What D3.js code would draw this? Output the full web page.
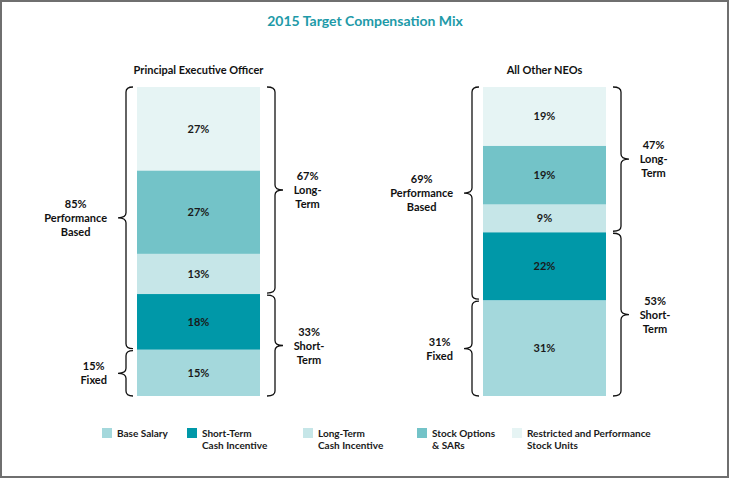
<!DOCTYPE html>
<html><head><meta charset="utf-8">
<script src="https://cdn.jsdelivr.net/npm/d3@7"></script>
<style>
html,body{margin:0;padding:0;background:#fff;}
svg{display:block;font-family:Lato,"Open Sans",sans-serif;}
</style></head>
<body>
<svg id="chart" width="729" height="478"></svg>
<script>
// ---- data ----
const title = "2015 Target Compensation Mix";
const categories = ["Base Salary", "Short-Term Cash Incentive", "Long-Term Cash Incentive", "Stock Options & SARs", "Restricted and Performance Stock Units"];
const legendLines = [["Base Salary"], ["Short-Term", "Cash Incentive"], ["Long-Term", "Cash Incentive"], ["Stock Options", "& SARs"], ["Restricted and Performance", "Stock Units"]];
const panels = ["Principal Executive Officer", "All Other NEOs"];
const peoValues = [15, 18, 13, 27, 27];
const neoValues = [31, 22, 9, 19, 19];
// bracket groups: [label, first category index, last category index]
const leftGroups = [["Fixed", 0, 0], ["Performance Based", 1, 4]];
const rightGroups = [["Short-Term", 0, 1], ["Long-Term", 2, 4]];
const leftGroupLines = {"Fixed": ["Fixed"], "Performance Based": ["Performance", "Based"]};
const rightGroupLines = {"Short-Term": ["Short-", "Term"], "Long-Term": ["Long-", "Term"]};
const colors = ["#a4d8dc", "#0098a8", "#c6e6e8", "#73c3c8", "#e6f4f4"];

const svg = d3.select("#chart");
const W = 729, H = 478;

svg.append("rect").attr("x", 1).attr("y", 1).attr("width", W - 2).attr("height", H - 2)
  .attr("fill", "#fff").attr("stroke", "#6f6f6f").attr("stroke-width", 2);

svg.append("text").attr("x", 365).attr("y", 26).attr("text-anchor", "middle")
  .attr("font-size", 14).attr("font-weight", 700).attr("fill", "#1e9aa8").text(title);

const x = d3.scaleBand().domain(panels).range([137, 606]).paddingInner(0.6445).paddingOuter(0);
const y = d3.scaleLinear().domain([0, 100]).range([396, 87]);
const allValues = [peoValues, neoValues];

function bracePath(xLine, xHook, xTip, y0, y1) {
  const ym = (y0 + y1) / 2, r = 5;
  return `M${xHook},${y0} Q${xLine},${y0} ${xLine},${y0 + r}` +
    ` L${xLine},${ym - r} Q${xLine},${ym} ${xTip},${ym}` +
    ` Q${xLine},${ym} ${xLine},${ym + r}` +
    ` L${xLine},${y1 - r} Q${xLine},${y1} ${xHook},${y1}`;
}

panels.forEach((p, pi) => {
  const vals = allValues[pi];
  const x0 = x(p), bw = x.bandwidth(), x1 = x0 + bw, cx = x0 + bw / 2;
  const stack = [];
  let acc = 0;
  vals.forEach((v, i) => { stack.push({i, v, a: acc, b: acc + v}); acc += v; });
  const g = svg.append("g");
  g.append("text").attr("x", cx).attr("y", 74).attr("text-anchor", "middle")
    .attr("font-size", 11).attr("font-weight", 700).attr("fill", "#111").text(p);
  g.selectAll("rect.seg").data(stack).join("rect").attr("class", "seg")
    .attr("x", x0).attr("width", bw)
    .attr("y", d => y(d.b)).attr("height", d => y(d.a) - y(d.b))
    .attr("fill", d => colors[d.i]);
  g.selectAll("text.val").data(stack).join("text").attr("class", "val")
    .attr("x", cx).attr("y", d => (y(d.a) + y(d.b)) / 2 + 4).attr("text-anchor", "middle")
    .attr("font-size", 11).attr("font-weight", 700).attr("fill", "#1a1a1a")
    .text(d => d.v + "%");

  leftGroups.forEach(([name, a, b]) => {
    const lo = d3.sum(vals.slice(0, a)), hi = d3.sum(vals.slice(0, b + 1));
    const yt = y(hi) + (a > 0 ? 0 : 1), yb = y(lo) - (a > 0 ? 1 : 0);
    const xl = x0 - 11, xt = x0 - 19;
    g.append("path").attr("d", bracePath(xl, x0 - 4, xt, yt, yb))
      .attr("fill", "none").attr("stroke", "#111").attr("stroke-width", 1.3);
    const lines = [(hi - lo) + "%"].concat(leftGroupLines[name]);
    const ym = (yt + yb) / 2;
    const t = g.append("text").attr("text-anchor", "middle").attr("font-size", 11)
      .attr("font-weight", 700).attr("fill", "#111");
    const spans = t.selectAll("tspan").data(lines).join("tspan").text(d => d);
    const wmax = d3.max(spans.nodes(), n => n.getComputedTextLength());
    const tx = xt - 11 - wmax / 2;
    const n = lines.length;
    spans.attr("x", tx).attr("y", (d, k) => ym + 4 + (k - (n - 1) / 2) * 14);
  });
  rightGroups.forEach(([name, a, b]) => {
    const lo = d3.sum(vals.slice(0, a)), hi = d3.sum(vals.slice(0, b + 1));
    const yt = y(hi) + (a > 0 ? 0 : 1), yb = y(lo) - (a > 0 ? 1 : 0);
    const xl = x1 + 15, xt = x1 + 23;
    g.append("path").attr("d", bracePath(xl, x1 + 7, xt, yt, yb))
      .attr("fill", "none").attr("stroke", "#111").attr("stroke-width", 1.3);
    const lines = [(hi - lo) + "%"].concat(rightGroupLines[name]);
    const ym = (yt + yb) / 2;
    const t = g.append("text").attr("text-anchor", "middle").attr("font-size", 11)
      .attr("font-weight", 700).attr("fill", "#111");
    const spans = t.selectAll("tspan").data(lines).join("tspan").text(d => d);
    const wmax = d3.max(spans.nodes(), n => n.getComputedTextLength());
    const tx = xt + 11 + wmax / 2;
    const n = lines.length;
    spans.attr("x", tx).attr("y", (d, k) => ym + 4 + (k - (n - 1) / 2) * 14);
  });
});

const legendX = [102, 187, 303, 417, 512];
const lg = svg.append("g");
categories.forEach((c, i) => {
  lg.append("rect").attr("x", legendX[i]).attr("y", 428).attr("width", 10).attr("height", 10)
    .attr("fill", colors[i]);
  const t = lg.append("text").attr("font-size", 10).attr("font-weight", 700).attr("fill", "#1a1a1a");
  legendLines[i].forEach((l, k) => {
    t.append("tspan").attr("x", legendX[i] + 15).attr("y", 437 + k * 12).text(l);
  });
});
</script>
</body></html>
